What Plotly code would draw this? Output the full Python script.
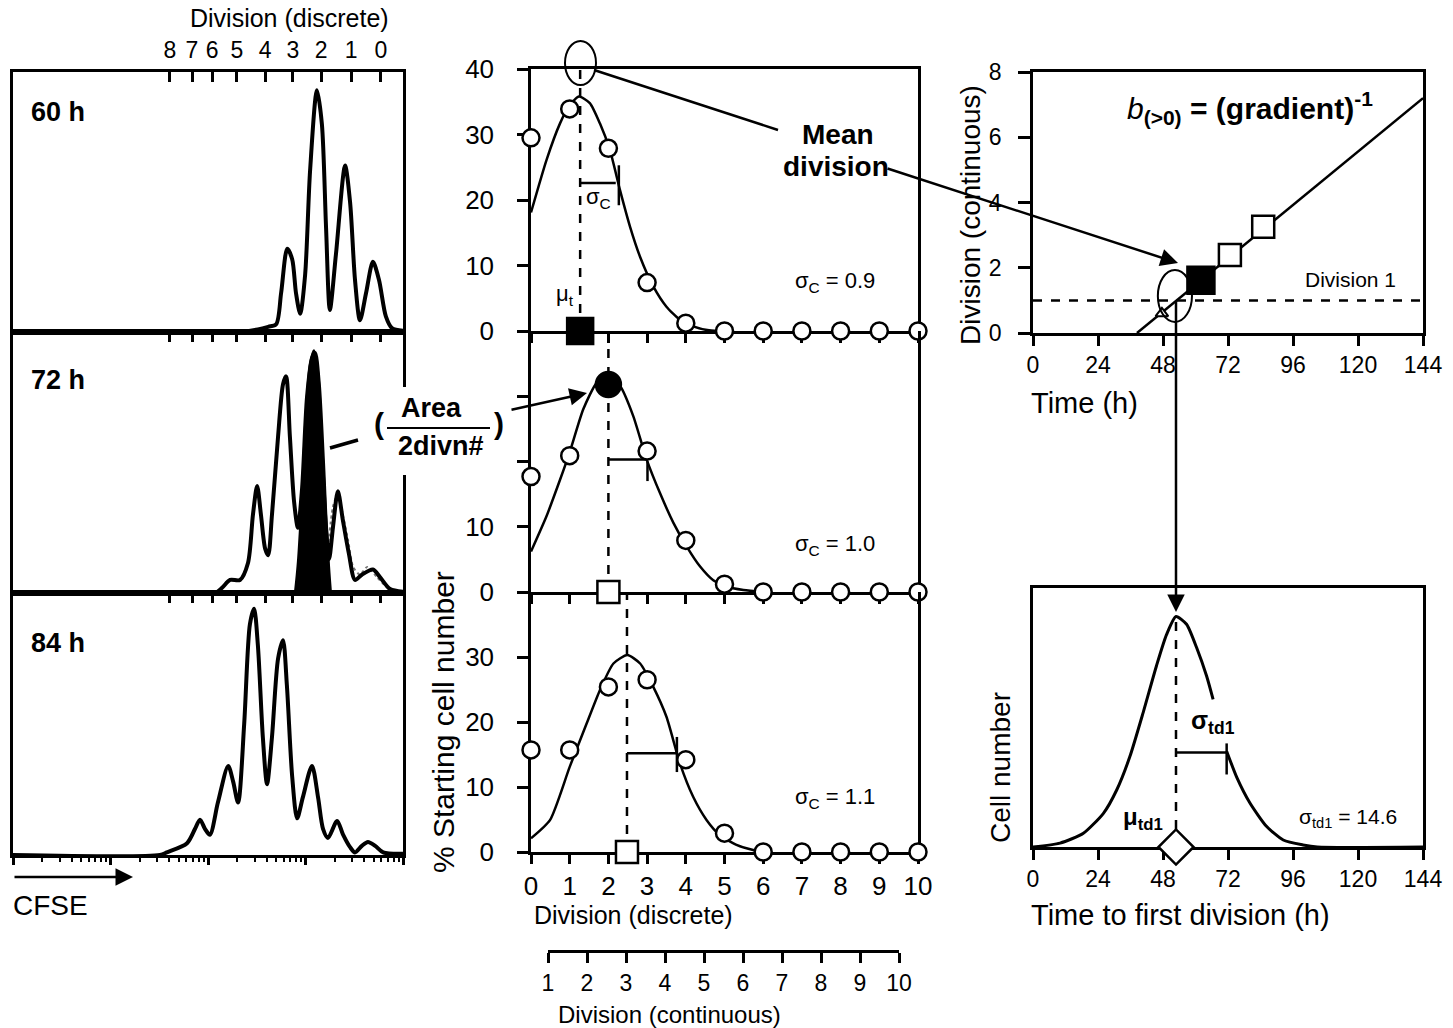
import numpy as np
import plotly.graph_objects as go

W, H = 1453, 1028
FONT = "Liberation Sans, Arial, Helvetica, sans-serif"


def px(x):
    return x / W


def py(y):
    return 1 - y / H


# ---------------- CFSE histograms (1024-channel, 4-decade log scale) ----------------
cfse_60_ch = [0, 596, 643, 670, 691, 704, 720, 733, 743, 754, 767, 780, 798, 811, 822, 832,
              848, 872, 885, 898, 911, 927, 945, 961, 979, 995, 1024]
cfse_60_n = [0, 0, 0.01, 0.02, 0.03, 0.15, 0.32, 0.28, 0.15, 0.07, 0.22, 0.62, 0.93, 0.8, 0.4, 0.085,
             0.3, 0.64, 0.5, 0.2, 0.045, 0.15, 0.27, 0.2, 0.06, 0.015, 0.005]

cfse_72_ch = [0, 530, 549, 570, 596, 617, 630, 641, 651, 662, 670, 680, 696, 709, 717, 727, 738, 748,
              759, 772, 785, 793, 803, 814, 822, 830, 840, 853, 866, 882, 898, 916, 945, 964, 990, 1024]
cfse_72_n = [0, 0, 0.02, 0.05, 0.05, 0.115, 0.3, 0.41, 0.3, 0.17, 0.145, 0.3, 0.6, 0.8, 0.83, 0.6, 0.35, 0.25,
             0.4, 0.75, 0.9, 0.92, 0.8, 0.5, 0.25, 0.13, 0.25, 0.39, 0.28, 0.15, 0.05, 0.07, 0.09, 0.06, 0.015, 0.005]

# division-2 peak at 72 h (shaded area)
cfse_72_div2_ch = [740, 748, 759, 769, 780, 790, 801, 811, 822, 830, 835]
cfse_72_div2_n = [0, 0.12, 0.4, 0.7, 0.88, 0.93, 0.85, 0.6, 0.3, 0.1, 0]

# overlaid replicate trace at 72 h (dotted)
cfse_72_rep_ch = [827, 840, 853, 866, 880, 893, 911, 930, 956, 982]
cfse_72_rep_n = [0.17, 0.33, 0.38, 0.3, 0.2, 0.1, 0.07, 0.1, 0.06, 0.02]

cfse_84_ch = [0, 386, 404, 457, 478, 491, 504, 517, 538, 565, 578, 591, 607, 622, 633, 643, 656, 667, 680,
              696, 709, 719, 733, 746, 761, 785, 801, 814, 827, 851, 866, 885, 898, 916, 932, 951, 972, 1024]
cfse_84_n = [0, 0, 0.01, 0.045, 0.1, 0.135, 0.1, 0.077, 0.2, 0.34, 0.28, 0.2, 0.5, 0.88, 0.94, 0.8, 0.45, 0.27,
             0.45, 0.75, 0.82, 0.65, 0.3, 0.14, 0.22, 0.34, 0.22, 0.1, 0.065, 0.13, 0.08, 0.03, 0.01, 0.035,
             0.05, 0.035, 0.01, 0.005]

# channel position of each discrete division peak marker
div_labels = ["0", "1", "2", "3", "4", "5", "6", "7", "8"]
div_channels = [966, 888, 809, 735, 662, 588, 523, 470, 412]

# ---------------- % starting cell number per division ----------------
divisions = list(range(11))
pct_60 = [29.5, 33.9, 27.9, 7.4, 1.2, 0, 0, 0, 0, 0, 0]
pct_72 = [17.7, 20.9, 31.8, 21.6, 7.9, 1.2, 0, 0, 0, 0, 0]
pct_84 = [15.7, 15.7, 25.4, 26.5, 14.2, 2.9, 0, 0, 0, 0, 0]

fit_60_x = [0, 0.4, 0.75, 1.0, 1.24, 1.52, 1.78, 2.04, 2.3, 2.56, 2.82, 3.16, 3.5, 3.85, 4.19, 4.6, 5.0]
fit_60_y = [18.1, 26.1, 31.7, 34.5, 35.8, 34.8, 31.7, 27.6, 21.5, 15.9, 11.3, 6.8, 3.7, 1.7, 0.7, 0.1, 0]
fit_72_x = [0, 0.4, 0.75, 1.0, 1.35, 1.7, 2.0, 2.3, 2.64, 2.99, 3.33, 3.68, 4.02, 4.37, 4.71, 5.06, 5.49, 6.0]
fit_72_y = [6.2, 11.6, 17.2, 21.4, 28, 32.1, 33.1, 31.6, 27, 20.3, 15.2, 10.6, 7.0, 3.9, 1.8, 0.8, 0.3, 0]
fit_84_x = [0, 0.49, 1.0, 1.44, 1.78, 2.13, 2.49, 2.82, 3.16, 3.5, 3.85, 4.19, 4.54, 4.88, 5.31, 5.74, 6.09]
fit_84_y = [2.1, 4.9, 13.1, 19.8, 24.9, 29.0, 30.3, 29.0, 25.4, 20.8, 13.6, 8.5, 4.9, 2.6, 1.1, 0.3, 0]

mean_div = [1.27, 2.0, 2.48]          # mean division (discrete axis position)
sigma_bar_y = [22.6, 20.3, 15.2]      # height of sigma bar
sigma_end = [2.19, 2.99, 3.77]        # right end of sigma bar
sigma_tick = [(2.27, 19.2, 25.3), (3.01, 17.0, 20.0), (3.77, 12.3, 17.7)]
sigma_c = ["0.9", "1.0", "1.1"]
cont_ticks = list(range(1, 11))

# ---------------- mean division vs time ----------------
time_ticks = [0, 24, 48, 72, 96, 120, 144]
mean_time = [62, 72.7, 85]
mean_cont = [1.62, 2.39, 3.26]
early_time, early_div = [47.6], [0.6]
line_time = [38.4, 144]
line_div = [0, 7.2]
div1_time = [0, 144]
div1_level = [1, 1]

# ---------------- time to first division distribution ----------------
td1_left_t = [0, 10, 18.6, 26, 30.9, 35.8, 40.7, 45.6, 49.3, 52.8, 56.7, 60.4, 64.1, 66.5]
td1_left_n = [0, 0.015, 0.053, 0.13, 0.22, 0.35, 0.52, 0.70, 0.82, 0.89, 0.86, 0.77, 0.66, 0.57]
td1_right_t = [71.5, 75.2, 80.1, 86.2, 92.4, 99.7, 105, 144]
td1_right_n = [0.37, 0.27, 0.17, 0.08, 0.027, 0.008, 0, 0]
mu_td1, peak_td1 = 52.8, 0.89
sigma_td1_end, sigma_td1_y = 71.5, 0.365

# ---------------- layout geometry ----------------
LX = [px(13), px(403)]
LY = [[py(332), py(72)], [py(593), py(332)], [py(855), py(593)]]
MX = [px(531), px(918)]
MY = [[py(331), py(69)], [py(592), py(331)], [py(852), py(592)]]
RX = [px(1033), px(1423)]
RY = [[py(333), py(72)], [py(847), py(588)]]
CX = [px(548), px(899)]

fig = go.Figure()
BLK = "black"


def line(x, y, xa, ya, width=3, dash=None, color=BLK, shape="spline", smoothing=0.6):
    fig.add_trace(go.Scatter(x=x, y=y, xaxis=xa, yaxis=ya, mode="lines",
                             line=dict(color=color, width=width, dash=dash, shape=shape,
                                       smoothing=smoothing if shape == "spline" else None),
                             hoverinfo="skip", showlegend=False, cliponaxis=False))


def marks(x, y, xa, ya, symbol, size, fill="white", width=2.5):
    fig.add_trace(go.Scatter(x=x, y=y, xaxis=xa, yaxis=ya, mode="markers",
                             marker=dict(symbol=symbol, size=size, color=fill,
                                         line=dict(color=BLK, width=width)),
                             hoverinfo="skip", showlegend=False, cliponaxis=False))


# CFSE histograms
line(cfse_60_ch, cfse_60_n, "x", "y", width=4, smoothing=0.8)
fig.add_trace(go.Scatter(x=cfse_72_div2_ch, y=cfse_72_div2_n, xaxis="x2", yaxis="y2", mode="lines",
                         fill="tozeroy", fillcolor=BLK, line=dict(color=BLK, width=2, shape="spline"),
                         hoverinfo="skip", showlegend=False))
line(cfse_72_rep_ch, cfse_72_rep_n, "x2", "y2", width=2, dash="dot", color="#777777")
line(cfse_72_ch, cfse_72_n, "x2", "y2", width=4, smoothing=0.8)
line(cfse_84_ch, cfse_84_n, "x3", "y3", width=4, smoothing=0.8)
fig.add_trace(go.Scatter(x=[], y=[], xaxis="x10", yaxis="y3", showlegend=False, hoverinfo="skip"))

# division distributions
mids = [("x4", "y4"), ("x5", "y5"), ("x6", "y6")]
fits = [(fit_60_x, fit_60_y), (fit_72_x, fit_72_y), (fit_84_x, fit_84_y)]
pcts = [pct_60, pct_72, pct_84]
for i, (xa, ya) in enumerate(mids):
    line([mean_div[i], mean_div[i]], [0, 40], xa, ya, width=2.5, dash="dash", shape="linear")
    line(fits[i][0], fits[i][1], xa, ya, width=2.5)
    line([mean_div[i], sigma_end[i]], [sigma_bar_y[i]] * 2, xa, ya, width=2.5, shape="linear")
    tx, t0, t1 = sigma_tick[i]
    line([tx, tx], [t0, t1], xa, ya, width=2.5, shape="linear")
    if i == 1:
        open_x = [d for d in divisions if d != 2]
        open_y = [v for d, v in zip(divisions, pcts[i]) if d != 2]
        marks(open_x, open_y, xa, ya, "circle", 17)
        marks([2], [pcts[i][2]], xa, ya, "circle", 25, fill=BLK)
    else:
        marks(divisions, pcts[i], xa, ya, "circle", 17)
marks([mean_div[0]], [0], "x4", "y4", "square", 26, fill=BLK)
marks([mean_div[1]], [0], "x5", "y5", "square", 22)
marks([mean_div[2]], [0], "x6", "y6", "square", 22)
fig.add_trace(go.Scatter(x=[], y=[], xaxis="x9", yaxis="y9", showlegend=False, hoverinfo="skip"))

# mean division vs time
line(div1_time, div1_level, "x7", "y7", width=2.5, dash="dash", shape="linear")
line(line_time, line_div, "x7", "y7", width=2.5, shape="linear")
marks(early_time, early_div, "x7", "y7", "triangle-up", 11, width=2)
marks(mean_time[:1], mean_cont[:1], "x7", "y7", "square", 27, fill=BLK)
marks(mean_time[1:], mean_cont[1:], "x7", "y7", "square", 22)

# time to first division
line(td1_left_t, td1_left_n, "x8", "y8", width=3)
line(td1_right_t, td1_right_n, "x8", "y8", width=3)
line([mu_td1, mu_td1], [0, peak_td1], "x8", "y8", width=2.5, dash="dash", shape="linear")
line([mu_td1, sigma_td1_end], [sigma_td1_y] * 2, "x8", "y8", width=2.5, shape="linear")
line([sigma_td1_end, sigma_td1_end], [0.28, 0.40], "x8", "y8", width=2.5, shape="linear")
marks([mu_td1], [0], "x8", "y8", "diamond", 27)


# ---------------- axes ----------------
def ax(**kw):
    d = dict(showline=True, linecolor=BLK, linewidth=2.5, mirror=True, showgrid=False,
             zeroline=False, ticks="", showticklabels=False, fixedrange=True, automargin=False,
             tickcolor=BLK, tickwidth=2.5, tickfont=dict(size=23, color=BLK, family=FONT))
    d.update(kw)
    return d


decades = [0, 256, 512, 768, 1024]
minor_ch = [256 * (d + np.log10(k)) for d in range(4) for k in range(2, 10)]

lay = {}
for i, nm in enumerate(["", "2", "3"]):
    lay["xaxis" + nm] = ax(domain=LX, anchor="y" + nm, range=[0, 1024], side="top", linewidth=3,
                           tickmode="array", tickvals=div_channels, ticktext=div_labels,
                           ticks="inside", ticklen=10, showticklabels=(i == 0),
                           tickfont=dict(size=23, color=BLK, family=FONT), ticklabelstandoff=2)
    lay["yaxis" + nm] = ax(domain=LY[i], anchor="x" + nm, range=[0, 1], linewidth=3)
lay["xaxis10"] = ax(overlaying="x3", anchor="y3", side="bottom", range=[0, 1024], showline=False,
                    tickmode="array", tickvals=decades, ticks="outside", ticklen=9,
                    minor=dict(tickvals=minor_ch, ticks="outside", ticklen=6, tickwidth=2, tickcolor=BLK))

MID_FONT = dict(size=26, color=BLK, family=FONT)
for i, nm in enumerate(["4", "5", "6"]):
    lay["xaxis" + nm] = ax(domain=MX, anchor="y" + nm, range=[0, 10], tickmode="array",
                           tickvals=divisions, ticks="outside", ticklen=9, layer="below traces",
                           showticklabels=(i == 2), ticklabelstandoff=0, mirror=(i == 0),
                           tickfont=MID_FONT)
    yt = [0, 10, 20, 30, 40] if i == 0 else [0, 10, 20, 30]
    ytxt = ["0", "10", "", ""] if i == 1 else [str(v) for v in yt]
    lay["yaxis" + nm] = ax(domain=MY[i], anchor="x" + nm, range=[0, 40], tickmode="array",
                           tickvals=yt, ticktext=ytxt, ticks="outside", ticklen=11,
                           showticklabels=True, ticklabelstandoff=18, layer="below traces",
                           tickfont=MID_FONT)
lay["xaxis9"] = ax(domain=CX, anchor="y9", range=[1, 10], mirror=False, tickmode="array",
                   tickvals=cont_ticks, ticks="outside", ticklen=10, showticklabels=True,
                   ticklabelstandoff=1)
lay["yaxis9"] = dict(domain=[py(950), py(930)], anchor="x9", visible=False, fixedrange=True,
                     automargin=False)

lay["xaxis7"] = ax(domain=RX, anchor="y7", range=[0, 144], tickmode="array", tickvals=time_ticks,
                   ticks="outside", ticklen=10, showticklabels=True, ticklabelstandoff=0,
                   layer="below traces")
lay["yaxis7"] = ax(domain=RY[0], anchor="x7", range=[0, 8], tickmode="array", tickvals=[0, 2, 4, 6, 8],
                   ticks="outside", ticklen=12, showticklabels=True, ticklabelstandoff=12)
lay["xaxis8"] = ax(domain=RX, anchor="y8", range=[0, 144], tickmode="array", tickvals=time_ticks,
                   ticks="outside", ticklen=10, showticklabels=True, ticklabelstandoff=0,
                   layer="below traces")
lay["yaxis8"] = ax(domain=RY[1], anchor="x8", range=[0, 1])


# ---------------- text ----------------
def txt(s, x, y, size=22, xanchor="center", angle=0, yanchor="middle"):
    return dict(text=s, x=px(x), y=py(y), xref="paper", yref="paper", showarrow=False,
                xanchor=xanchor, yanchor=yanchor, textangle=angle,
                font=dict(size=size, color=BLK, family=FONT))


def arrow(x, y, dx, dy):
    return dict(text="", x=px(x), y=py(y), xref="paper", yref="paper", showarrow=True,
                ax=dx, ay=dy, axref="pixel", ayref="pixel", arrowhead=2, arrowsize=1.4,
                arrowwidth=2.5, arrowcolor=BLK, standoff=0, startstandoff=0)


ann = [
    txt("Division (discrete)", 289, 18, 25),
    txt("<b>60 h</b>", 29, 112, 27, xanchor="left"),
    txt("<b>72 h</b>", 29, 380, 27, xanchor="left"),
    txt("<b>84 h</b>", 29, 643, 27, xanchor="left"),
    txt("CFSE", 11, 905, 28, xanchor="left"),
    txt("<b>(</b>", 379, 423, 30),
    txt("<b>)</b>", 499, 423, 30),
    txt("<b>Area</b>", 432, 408, 27),
    txt("<b>2divn#</b>", 441, 446, 27),
    txt("% Starting cell number", 443, 722, 30, angle=-90),
    txt("Division (discrete)", 633, 915, 25),
    txt("Division (continuous)", 669, 1014, 24),
    txt("<b>Mean</b>", 838, 135, 28),
    txt("<b>division</b>", 836, 167, 28),
    txt("σ<sub>C</sub>", 598, 198, 22),
    txt("μ<sub>t</sub>", 565, 295, 22),
    txt("Division (continuous)", 970, 215, 28, angle=-90),
    txt("Time (h)", 1029, 403, 29, xanchor="left"),
    txt("Cell number", 1000, 768, 28, angle=-90),
    txt("Time to first division (h)", 1029, 915, 29, xanchor="left"),
    txt("<i>b</i><sub><b>(&gt;0)</b></sub><b> = (gradient)</b><sup><b>-1</b></sup>", 1250, 108, 30),
    txt("Division 1", 1350, 280, 21),
    txt("<b>σ<sub>td1</sub></b>", 1213, 722, 25),
    txt("<b>μ<sub>td1</sub></b>", 1143, 818, 24),
    txt("σ<sub>td1</sub> = 14.6", 1348, 818, 21),
    arrow(1178, 263, 886 - 1178, 168 - 263),
    arrow(587, 393, -77, 17),
    arrow(1176, 612, 0, 300 - 612),
    arrow(133, 877, -120, 0),
]
for i, yy in enumerate([282, 545, 798]):
    ann.append(txt("σ<sub>C</sub> = " + sigma_c[i], 835, yy, 22))

shapes = [
    # ring round the peak of the 60 h fit
    dict(type="circle", xref="paper", yref="paper", x0=px(565), x1=px(596), y0=py(85), y1=py(41),
         line=dict(color=BLK, width=2)),
    dict(type="line", xref="paper", yref="paper", x0=px(594), y0=py(70), x1=px(778), y1=py(130),
         line=dict(color=BLK, width=2.5)),
    # ring where the fit crosses division 1
    dict(type="circle", xref="x7", yref="y7", x0=46.1, x1=58.7, y0=0.34, y1=1.93,
         line=dict(color=BLK, width=2)),
    # fraction bar and leader for the area label
    dict(type="rect", xref="paper", yref="paper", x0=px(396), x1=px(409), y0=py(475), y1=py(387),
         fillcolor="white", line=dict(width=0), layer="above"),
    dict(type="line", xref="paper", yref="paper", x0=px(387), y0=py(428), x1=px(490), y1=py(428),
         line=dict(color=BLK, width=2)),
    dict(type="line", xref="paper", yref="paper", x0=px(330), y0=py(448), x1=px(358), y1=py(440),
         line=dict(color=BLK, width=3.5)),
]

fig.update_layout(width=W, height=H, margin=dict(l=0, r=0, t=0, b=0, pad=0, autoexpand=False),
                  autosize=False, paper_bgcolor="white", plot_bgcolor="white", showlegend=False,
                  font=dict(family=FONT, color=BLK, size=22),
                  annotations=ann, shapes=shapes, **lay)
fig.write_html("out.html")
